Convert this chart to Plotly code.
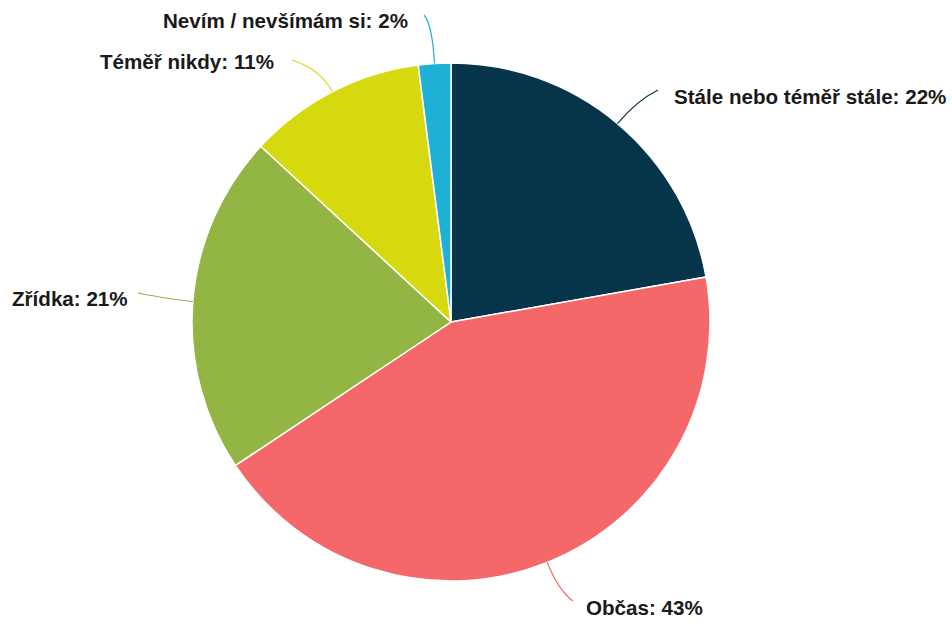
import math
import plotly.graph_objects as go

# Survey answers and their shares (%)
labels = ["Stále nebo téměř stále", "Občas", "Zřídka", "Téměř nikdy", "Nevím / nevšímám si"]
values = [22, 43, 21, 11, 2]
colors = ["#06344a", "#f4686a", "#93b543", "#d7d90f", "#1fb1d5"]

W, H = 952, 624
CX, CY, R = 451, 322, 259  # pie centre and radius in pixels

# label placement (pixel anchor, horizontal anchor) and leader-line geometry
label_pos = [
    (672, 96, "left"),
    (584, 607, "left"),
    (10, 298, "left"),
    (276, 62, "right"),
    (410, 20, "right"),
]
line_end = [(658, 90), (573, 601), (138, 293), (292, 60), (424, 15)]
line_ext = [30, 30, 20, 25, 40]


def px(x, y):
    return x / W, 1 - y / H


fig = go.Figure(
    go.Pie(
        labels=labels,
        values=values,
        sort=False,
        direction="clockwise",
        rotation=0,
        marker=dict(colors=colors, line=dict(color="white", width=1.5)),
        textinfo="none",
        hoverinfo="label+percent",
        domain=dict(x=[(CX - R) / W, (CX + R) / W], y=[(H - CY - R) / H, (H - CY + R) / H]),
        showlegend=False,
    )
)

total = sum(values)
shapes, annotations = [], []
cum = 0
for i, v in enumerate(values):
    mid = (cum + v / 2) / total * 2 * math.pi
    cum += v
    dx, dy = math.sin(mid), -math.cos(mid)
    x0, y0 = CX + R * dx, CY + R * dy
    cx, cy = CX + (R + line_ext[i]) * dx, CY + (R + line_ext[i]) * dy
    x1, y1 = line_end[i]
    a, b = px(x0, y0)
    c, d = px(cx, cy)
    e, f = px(x1, y1)
    shapes.append(dict(
        type="path", xref="paper", yref="paper",
        path=f"M {a},{b} Q {c},{d} {e},{f}",
        line=dict(color=colors[i], width=1.2),
    ))
    lx, ly, anchor = label_pos[i]
    ax_, ay_ = px(lx, ly)
    annotations.append(dict(
        x=ax_, y=ay_, xref="paper", yref="paper",
        xanchor=anchor, yanchor="middle", showarrow=False,
        text=f"<b>{labels[i]}: {v}%</b>",
        font=dict(family="Liberation Sans, Arial, sans-serif", size=20.6, color="#1a1a1a"),
    ))

fig.update_layout(
    width=W, height=H,
    margin=dict(l=0, r=0, t=0, b=0),
    paper_bgcolor="white",
    plot_bgcolor="white",
    shapes=shapes,
    annotations=annotations,
)

fig.write_html("out.html")
